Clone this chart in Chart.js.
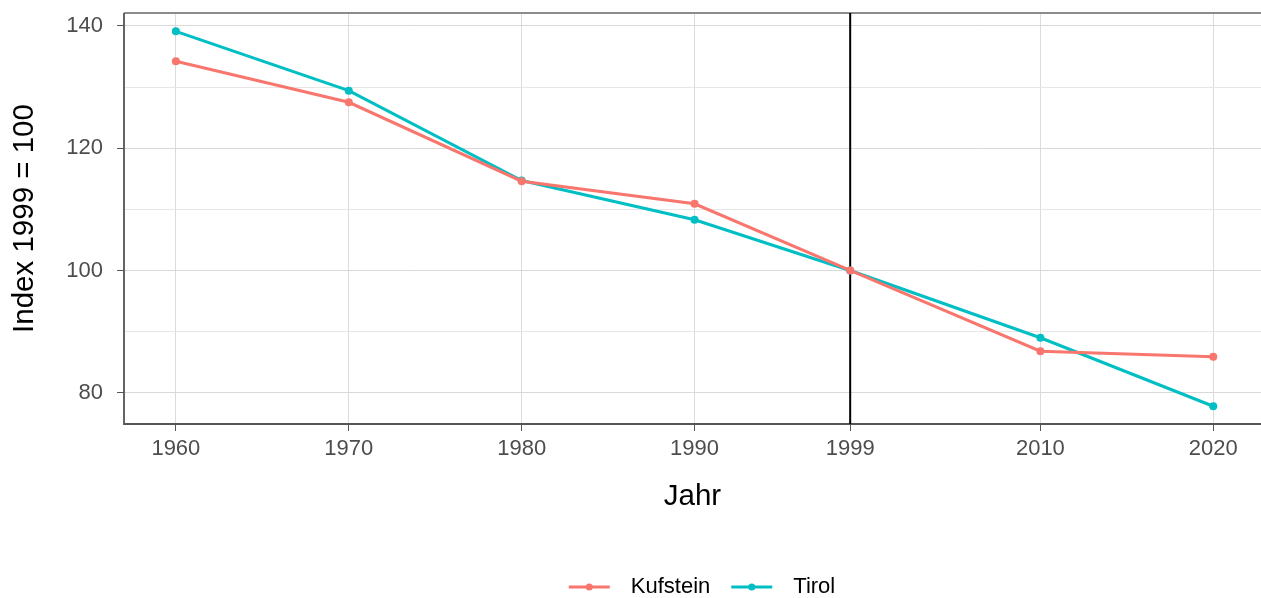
<!DOCTYPE html>
<html>
<head>
<meta charset="utf-8">
<script src="https://cdn.jsdelivr.net/npm/chart.js@4/dist/chart.umd.min.js"></script>
<style>
  html, body { margin: 0; padding: 0; background: #fff; }
  #wrap { width: 1261px; height: 598px; }
</style>
</head>
<body>
<div id="wrap"><canvas id="grafico" width="1261" height="598"></canvas></div>
<script>
// Daten
const jahre = [1960, 1970, 1980, 1990, 1999, 2010, 2020];
const kufstein = [134.2, 127.5, 114.6, 110.9, 100, 86.8, 85.9];
const tirol = [139.1, 129.4, 114.7, 108.3, 100, 89.0, 77.8];
const xTicks = [1960, 1970, 1980, 1990, 1999, 2010, 2020];
const yTicks = [80, 90, 100, 110, 120, 130, 140];
const yLabels = [80, 100, 120, 140];
const referenzJahr = 1999;

const font = "'Liberation Sans', Arial, sans-serif";

// Rahmen + vertikale Linie bei 1999
const rahmen = {
  id: "rahmen",
  beforeDatasetsDraw(chart) {
    const { ctx, chartArea: a, scales } = chart;
    ctx.save();
    ctx.strokeStyle = "#8c8c8c";
    ctx.lineWidth = 1.8;
    ctx.beginPath();
    ctx.moveTo(a.left, a.top);
    ctx.lineTo(a.right, a.top);
    ctx.stroke();
    ctx.strokeStyle = "#555";
    ctx.beginPath();
    ctx.moveTo(a.left, a.top);
    ctx.lineTo(a.left, a.bottom);
    ctx.lineTo(a.right, a.bottom);
    ctx.stroke();
    const x = scales.x.getPixelForValue(referenzJahr);
    ctx.strokeStyle = "#000";
    ctx.lineWidth = 2;
    ctx.beginPath();
    ctx.moveTo(x, a.top);
    ctx.lineTo(x, a.bottom);
    ctx.stroke();
    ctx.restore();
  }
};

// Legende unten (wie ggplot)
const legende = {
  id: "legende",
  afterDraw(chart) {
    const { ctx } = chart;
    const ds = chart.data.datasets;
    const keyW = 41, gapText = 21, gapItem = 21, mitte = 702, y = 587;
    ctx.save();
    ctx.font = "22px " + font;
    const breiten = ds.map(d => ctx.measureText(d.label).width);
    let gesamt = 0;
    breiten.forEach((b, i) => { gesamt += keyW + gapText + b + (i < ds.length - 1 ? gapItem : 0); });
    let x = mitte - gesamt / 2;
    ds.forEach((d, i) => {
      ctx.strokeStyle = d.borderColor;
      ctx.lineWidth = 3;
      ctx.beginPath();
      ctx.moveTo(x, y);
      ctx.lineTo(x + keyW, y);
      ctx.stroke();
      ctx.fillStyle = d.borderColor;
      ctx.beginPath();
      ctx.arc(x + keyW / 2, y, 3.5, 0, Math.PI * 2);
      ctx.fill();
      ctx.fillStyle = "#000";
      ctx.textBaseline = "middle";
      ctx.fillText(d.label, x + keyW + gapText, y);
      x += keyW + gapText + breiten[i] + gapItem;
    });
    ctx.restore();
  }
};

const toPoints = (arr) => arr.map((v, i) => ({ x: jahre[i], y: v }));

new Chart(document.getElementById("grafico"), {
  type: "line",
  data: {
    datasets: [
      {
        label: "Kufstein",
        data: toPoints(kufstein),
        borderColor: "#F8766D",
        backgroundColor: "#F8766D",
        borderWidth: 3,
        pointRadius: 4,
        pointHoverRadius: 4,
        pointBorderWidth: 0
      },
      {
        label: "Tirol",
        data: toPoints(tirol),
        borderColor: "#00BFC4",
        backgroundColor: "#00BFC4",
        borderWidth: 3,
        pointRadius: 4,
        pointHoverRadius: 4,
        pointBorderWidth: 0
      }
    ]
  },
  options: {
    responsive: false,
    animation: false,
    layout: { autoPadding: false, padding: { left: 0, right: 0, top: 13, bottom: 0 } },
    plugins: {
      tooltip: { enabled: false },
      legend: { display: false }
    },
    scales: {
      x: {
        type: "linear",
        min: 1957,
        max: 2022.76,
        afterBuildTicks(s) { s.ticks = xTicks.map(v => ({ value: v })); },
        afterFit(s) { s.height = 174; s.paddingLeft = 0; s.paddingRight = 0; },
        border: { display: false },
        grid: {
          color: "#dcdcdc",
          lineWidth: 1,
          tickColor: "#555",
          tickLength: 7
        },
        ticks: {
          font: { family: font, size: 22 },
          color: "#4d4d4d",
          padding: 5,
          maxRotation: 0,
          autoSkip: false,
          callback: (v) => String(v)
        },
        title: {
          display: true,
          text: "Jahr",
          font: { family: font, size: 29.5 },
          color: "#000",
          padding: { top: 0, bottom: 83 }
        }
      },
      y: {
        min: 74.9,
        max: 142.1,
        afterBuildTicks(s) { s.ticks = yTicks.map(v => ({ value: v })); },
        afterFit(s) { s.width = 124; s.paddingTop = 0; s.paddingBottom = 0; },
        border: { display: false },
        grid: {
          color: (c) => yLabels.includes(c.tick && c.tick.value) ? "#d9d9d9" : "#e6e6e6",
          lineWidth: 1,
          tickColor: (c) => yLabels.includes(c.tick && c.tick.value) ? "#555" : "rgba(0,0,0,0)",
          tickLength: 7
        },
        ticks: {
          font: { family: font, size: 22 },
          color: "#4d4d4d",
          padding: 14,
          autoSkip: false,
          callback: (v) => yLabels.includes(v) ? String(v) : ""
        },
        title: {
          display: true,
          text: "Index 1999 = 100",
          font: { family: font, size: 29.5 },
          color: "#000",
          padding: { top: 7, bottom: 0 }
        }
      }
    }
  },
  plugins: [rahmen, legende]
});
</script>
</body>
</html>
